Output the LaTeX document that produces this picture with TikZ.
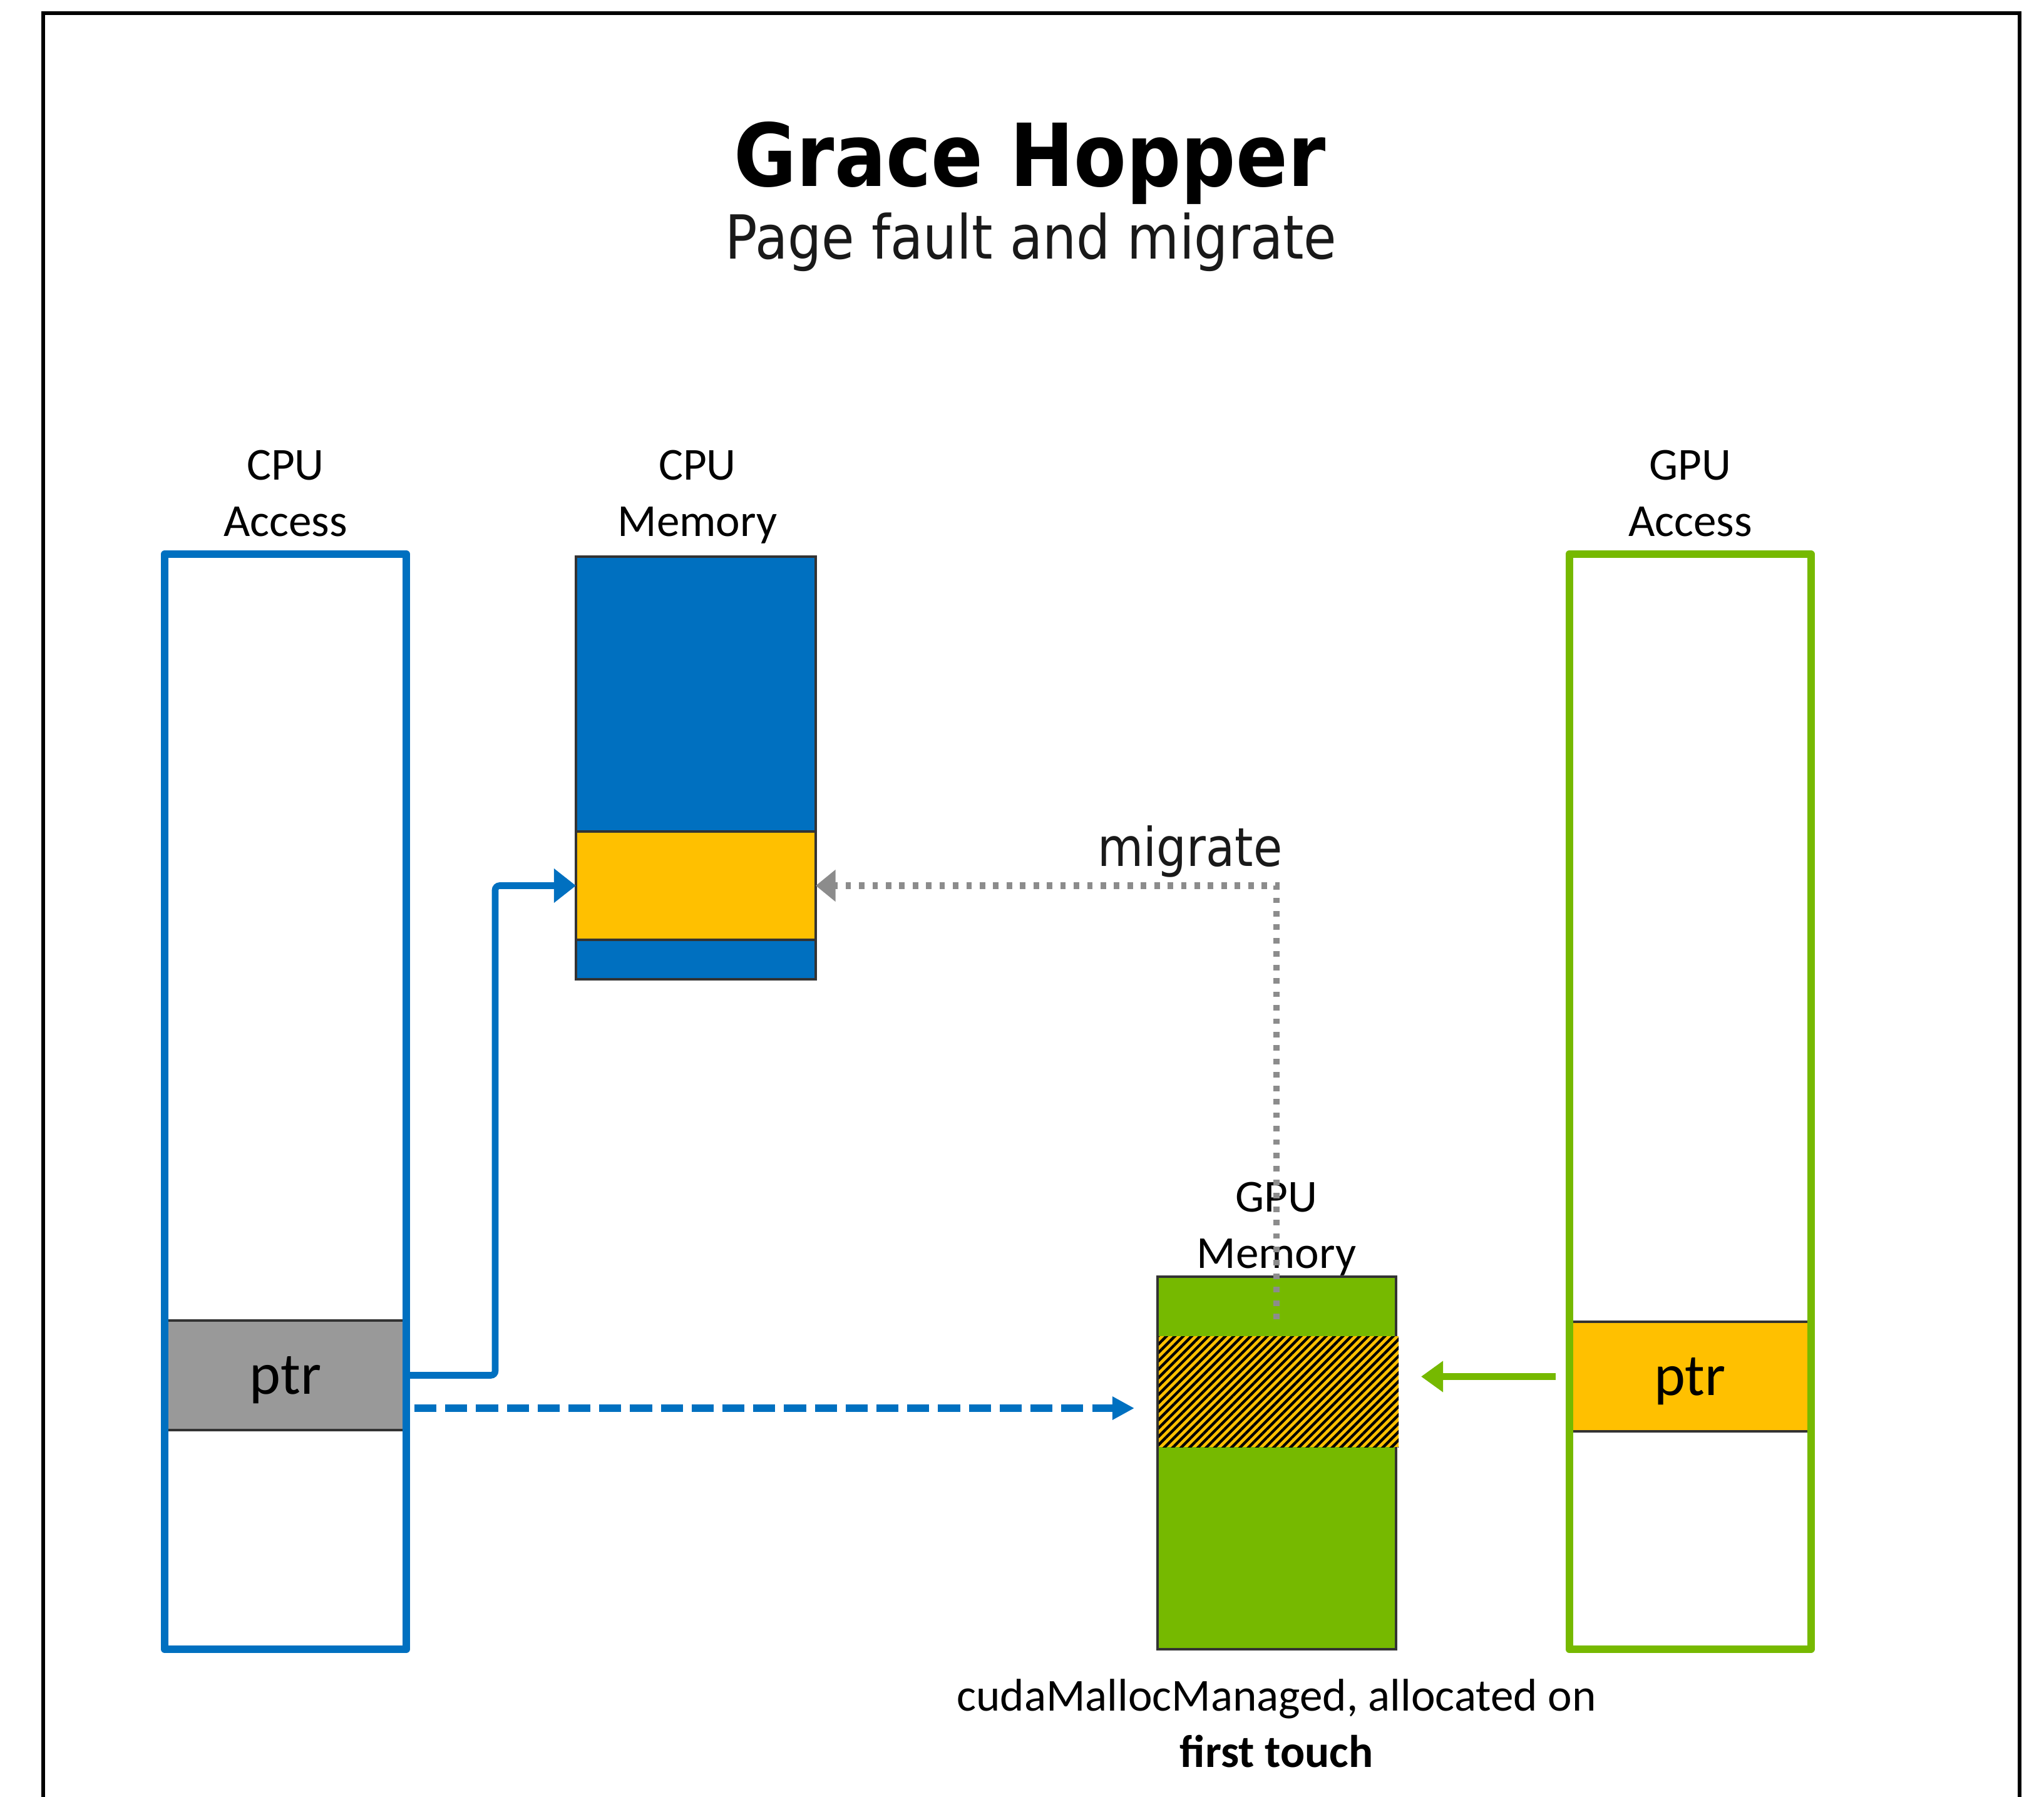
\documentclass[tikz,border=0pt]{standalone}
\usepackage{fontspec}
\setmainfont{Carlito}
\newfontfamily\headfont[FakeStretch=0.88]{DejaVu Sans}
\usetikzlibrary{arrows.meta,patterns.meta}
\definecolor{cpublue}{HTML}{0070C0}
\definecolor{nvgreen}{HTML}{76B900}
\definecolor{ptryellow}{HTML}{FFC000}
\definecolor{ptrgray}{HTML}{999999}
\definecolor{edgegray}{HTML}{333333}
\definecolor{miggray}{HTML}{8C8C8C}

\begin{document}
\begin{tikzpicture}[x=1cm,y=-1cm,
  lbl/.style={align=center,inner sep=0pt,font=\fontsize{20.8}{25.5}\selectfont},
  accbox/.style={draw=#1,line width=3.4pt,line join=round,inner sep=0pt,outer sep=0pt,minimum width=3.86cm,minimum height=17.49cm},
  membox/.style={fill=#1,draw=edgegray,line width=1.1pt,inner sep=0pt,outer sep=0pt},
  slot/.style={fill=#1,inner sep=0pt,outer sep=0pt,minimum width=3.76cm,minimum height=1.75cm,text depth=0pt,font=\fontsize{27}{30}\selectfont},
  slotedge/.style={draw=edgegray,line width=1pt},
  cpuarrow/.style={draw=cpublue,line width=3pt,rounded corners=2pt,-{Triangle[length=10pt,width=15pt]}},
  dasharrow/.style={draw=cpublue,line width=3.3pt,dash pattern=on 10pt off 4pt,-{Triangle[length=10pt,width=10pt]}},
  migarrow/.style={draw=miggray,line width=3pt,dash pattern=on 2.5pt off 3.6pt,-{Triangle[length=9pt,width=14pt]}},
  gpuarrow/.style={draw=nvgreen,line width=3.4pt,-{Triangle[length=10pt,width=13.6pt]}}]
\useasboundingbox (0,0) rectangle (32.65,28.70);
\draw[line width=1.7pt] (0.69,28.8) -- (0.69,0.21) -- (32.26,0.21) -- (32.26,28.8);

\node[anchor=base,inner sep=0pt,font=\headfont\bfseries\fontsize{39.5}{44}\selectfont] (title) at (16.45,2.98) {Grace Hopper};
\node[anchor=base,inner sep=0pt,font=\headfont\fontsize{27.6}{32}\selectfont,text=black!90] (subtitle) at (16.47,4.14) {Page fault and migrate};

\node[slot=ptrgray] (cpuptr) at (4.56,21.965) {ptr};
\draw[slotedge] (cpuptr.north west) -- (cpuptr.north east);
\draw[slotedge] (cpuptr.south west) -- (cpuptr.south east);
\node[accbox=cpublue] (cpuacc) at (4.56,17.595) {};

\node[membox=cpublue,minimum width=3.83cm,minimum height=6.75cm] (cpumem) at (11.115,12.265) {};
\node[membox=ptryellow,minimum width=3.83cm,minimum height=1.73cm] (cpuband) at (11.115,14.145) {};

\node[membox=nvgreen,minimum width=3.81cm,minimum height=5.95cm] (gpumem) at (20.395,23.365) {};
\node[inner sep=0pt,outer sep=0pt,minimum width=3.83cm,minimum height=1.77cm,preaction={fill=ptryellow},pattern={Lines[angle=45,distance=2.7pt,line width=1.25pt]},pattern color=black] (gpuhatch) at (20.425,22.225) {};

\node[slot=ptryellow] (gpuptr) at (26.995,21.985) {ptr};
\draw[slotedge] (gpuptr.north west) -- (gpuptr.north east);
\draw[slotedge] (gpuptr.south west) -- (gpuptr.south east);
\node[accbox=nvgreen] (gpuacc) at (26.995,17.595) {};

\node[lbl,anchor=base] (cpuacclbl) at (4.56,8.56) {CPU\\Access};
\node[lbl,anchor=base] (cpumemlbl) at (11.14,8.56) {CPU\\Memory};
\node[lbl,anchor=base] (gpuacclbl) at (27.00,8.56) {GPU\\Access};
\node[lbl,anchor=base] (gpumemlbl) at (20.39,20.25) {GPU\\Memory};
\node[lbl,anchor=base] (alloclbl) at (20.39,28.22) {cudaMallocManaged, allocated on\\\textbf{first touch}};
\node[anchor=base,inner sep=0pt,font=\headfont\fontsize{24.3}{28}\selectfont,text=black!90] (miglbl) at (19.01,13.83) {migrate};

\draw[cpuarrow] (cpuptr.east) -- ++(1.47,0) |- (cpuband.west);
\coordinate (dashfrom) at (6.62,22.49);
\draw[dasharrow,shorten >=0.37cm] (dashfrom) -- (dashfrom -| gpumem.west);
\draw[gpuarrow,shorten <=0.27cm,shorten >=0.36cm] (gpuptr.west) -- (gpuptr.west -| gpuhatch.east);
\coordinate (migfrom) at (20.39,21.07);
\draw[migarrow] (migfrom) |- (cpuband.east);
\end{tikzpicture}
\end{document}
